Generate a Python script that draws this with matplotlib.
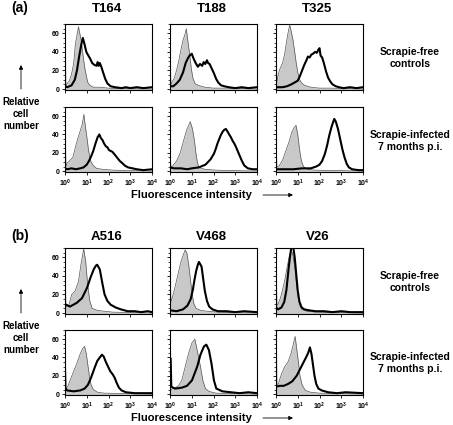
import numpy as np
import matplotlib
matplotlib.use("Agg")
import matplotlib.pyplot as plt
from matplotlib.patches import FancyArrowPatch
from matplotlib.ticker import MultipleLocator, FixedLocator, LogLocator, NullFormatter

plt.rcParams['font.family'] = ['Liberation Sans', 'DejaVu Sans']
plt.rcParams['font.weight'] = 'bold'
plt.rcParams['mathtext.fontset'] = 'custom'
plt.rcParams['mathtext.rm'] = 'Liberation Sans:bold'
plt.rcParams['mathtext.bf'] = 'Liberation Sans:bold'

# histogram curves: (log10 intensity, cell count)
# (a) scrapie-free controls
T164_FREE_GRAY = [(0, 0), (0.02, 40), (0.04, 3), (0.1, 6), (0.2, 9), (0.3, 16), (0.4, 28), (0.48, 49), (0.55, 58), (0.62, 67), (0.68, 60), (0.74, 53), (0.82, 38), (0.9, 24), (1.0, 12), (1.05, 7), (1.15, 4), (1.3, 2), (1.6, 2), (2.0, 1), (2.5, 0.5), (4, 0)]
T164_FREE_BLACK = [(0, 3), (0.1, 2), (0.3, 4), (0.45, 10), (0.55, 20), (0.65, 35), (0.75, 48), (0.82, 55), (0.9, 48), (0.98, 40), (1.05, 37), (1.15, 33), (1.25, 28), (1.35, 26), (1.45, 25), (1.5, 29), (1.55, 25), (1.6, 28), (1.67, 24), (1.75, 18), (1.85, 11), (1.95, 6), (2.1, 3), (2.3, 2), (2.6, 1), (2.8, 2), (3.0, 1), (3.3, 2), (3.6, 1), (4, 2)]
T188_FREE_GRAY = [(0, 0), (0.02, 30), (0.04, 4), (0.1, 8), (0.2, 12), (0.3, 20), (0.4, 30), (0.5, 42), (0.6, 53), (0.68, 58), (0.75, 65), (0.82, 52), (0.9, 38), (0.98, 22), (1.05, 12), (1.15, 6), (1.3, 4), (1.6, 2), (2.0, 1), (2.6, 1), (4, 0)]
T188_FREE_BLACK = [(0, 3), (0.15, 3), (0.3, 6), (0.45, 10), (0.6, 18), (0.72, 28), (0.82, 33), (0.9, 36), (1.0, 38), (1.08, 33), (1.18, 28), (1.28, 24), (1.38, 27), (1.48, 25), (1.55, 29), (1.62, 27), (1.7, 31), (1.75, 28), (1.82, 27), (1.92, 22), (2.02, 17), (2.12, 11), (2.22, 7), (2.35, 4), (2.5, 3), (2.7, 2), (3.0, 1), (3.3, 2), (3.6, 1), (4, 2)]
T325_FREE_GRAY = [(0, 0), (0.02, 31), (0.04, 8), (0.15, 20), (0.3, 28), (0.4, 38), (0.47, 49), (0.55, 60), (0.63, 69), (0.7, 62), (0.78, 53), (0.86, 40), (0.93, 28), (1.0, 18), (1.09, 10), (1.2, 6), (1.32, 4), (1.6, 2), (2.0, 1), (2.5, 1), (4, 0)]
T325_FREE_BLACK = [(0, 2), (0.3, 2), (0.5, 3), (0.7, 5), (0.85, 7), (1.0, 9), (1.1, 14), (1.2, 20), (1.3, 26), (1.4, 31), (1.47, 35), (1.55, 34), (1.62, 37), (1.7, 38), (1.8, 40), (1.88, 39), (1.94, 42), (2.0, 44), (2.05, 36), (2.12, 34), (2.2, 28), (2.3, 19), (2.4, 12), (2.5, 8), (2.6, 5), (2.75, 3), (2.9, 2), (3.1, 1), (3.4, 2), (3.7, 1), (4, 2)]

# (a) scrapie-infected 7 months p.i.
T164_INF_GRAY = [(0, 0), (0.02, 40), (0.04, 5), (0.1, 9), (0.2, 11), (0.36, 15), (0.51, 29), (0.62, 38), (0.7, 44), (0.79, 51), (0.87, 62), (0.93, 50), (1.0, 38), (1.07, 25), (1.13, 16), (1.2, 10), (1.3, 6), (1.45, 3), (1.7, 2), (2.2, 1), (4, 0)]
T164_INF_BLACK = [(0, 3), (0.1, 2), (0.3, 3), (0.5, 2), (0.7, 3), (0.85, 4), (1.0, 7), (1.1, 11), (1.2, 16), (1.3, 22), (1.4, 30), (1.5, 37), (1.58, 40), (1.65, 36), (1.72, 34), (1.8, 30), (1.88, 27), (1.95, 26), (2.02, 23), (2.1, 22), (2.18, 21), (2.25, 19), (2.32, 17), (2.42, 14), (2.52, 11), (2.62, 9), (2.75, 6), (2.9, 4), (3.1, 3), (3.3, 2), (3.6, 1), (4, 2)]
T188_INF_GRAY = [(0, 0), (0.02, 12), (0.04, 5), (0.1, 5), (0.3, 11), (0.47, 20), (0.62, 33), (0.78, 46), (0.86, 50), (0.93, 54), (1.01, 48), (1.08, 40), (1.14, 30), (1.2, 18), (1.25, 11), (1.32, 4), (1.6, 2), (2.1, 1), (4, 0)]
T188_INF_BLACK = [(0, 4), (0.2, 3), (0.5, 3), (0.8, 2), (1.0, 3), (1.32, 4), (1.63, 7), (1.87, 13), (2.02, 19), (2.1, 24), (2.18, 30), (2.33, 39), (2.42, 43), (2.49, 45), (2.57, 46), (2.65, 43), (2.72, 40), (2.8, 37), (2.88, 33), (2.96, 30), (3.04, 26), (3.11, 22), (3.2, 17), (3.27, 13), (3.35, 9), (3.42, 6), (3.58, 3), (3.8, 2), (4, 2)]
T325_INF_GRAY = [(0, 0), (0.02, 20), (0.04, 4), (0.15, 6), (0.3, 12), (0.45, 22), (0.6, 32), (0.72, 42), (0.82, 47), (0.92, 50), (1.0, 40), (1.08, 24), (1.16, 12), (1.26, 5), (1.45, 2), (1.8, 1), (4, 0)]
T325_INF_BLACK = [(0, 2), (0.4, 2), (0.8, 2), (1.2, 3), (1.6, 3), (1.85, 5), (2.0, 7), (2.12, 11), (2.25, 19), (2.35, 28), (2.45, 39), (2.55, 48), (2.62, 53), (2.68, 57), (2.75, 54), (2.85, 46), (2.95, 35), (3.05, 24), (3.15, 15), (3.25, 8), (3.35, 4), (3.5, 2), (3.8, 1), (4, 1)]

# (b) scrapie-free controls
A516_FREE_GRAY = [(0, 0), (0.02, 31), (0.04, 7), (0.16, 7), (0.31, 20), (0.47, 24), (0.62, 34), (0.73, 52), (0.86, 69), (0.95, 56), (1.04, 31), (1.14, 13), (1.25, 5), (1.48, 3), (1.8, 2), (2.2, 1), (4, 0)]
A516_FREE_BLACK = [(0, 9), (0.05, 9), (0.23, 7), (0.54, 11), (0.78, 16), (1.01, 27), (1.17, 38), (1.32, 47), (1.42, 51), (1.48, 52), (1.6, 47), (1.71, 33), (1.82, 20), (1.95, 13), (2.1, 9), (2.33, 6), (2.57, 4), (2.88, 2), (3.2, 2), (3.5, 1), (3.8, 2), (4, 1)]
V468_FREE_GRAY = [(0, 0), (0.02, 38), (0.04, 12), (0.1, 16), (0.2, 25), (0.3, 35), (0.4, 45), (0.5, 55), (0.6, 62), (0.7, 68), (0.78, 64), (0.86, 52), (0.94, 36), (1.02, 20), (1.1, 10), (1.2, 5), (1.4, 3), (1.7, 2), (2.2, 1), (4, 0)]
V468_FREE_BLACK = [(0, 3), (0.3, 2), (0.6, 4), (0.8, 8), (0.95, 15), (1.05, 25), (1.12, 35), (1.2, 45), (1.28, 52), (1.33, 55), (1.38, 53), (1.45, 50), (1.52, 38), (1.6, 24), (1.7, 13), (1.8, 7), (1.95, 4), (2.2, 2), (2.6, 2), (3.0, 1), (3.4, 2), (4, 1)]
V26_FREE_GRAY = [(0, 0), (0.02, 40), (0.04, 8), (0.1, 10), (0.2, 16), (0.3, 25), (0.4, 35), (0.5, 48), (0.6, 60), (0.7, 68), (0.78, 62), (0.86, 50), (0.94, 32), (1.02, 16), (1.1, 8), (1.2, 4), (1.4, 2), (1.8, 1), (4, 0)]
V26_FREE_BLACK = [(0, 6), (0.1, 4), (0.25, 6), (0.38, 12), (0.48, 25), (0.58, 48), (0.65, 62), (0.7, 70), (0.8, 70), (0.86, 60), (0.93, 42), (1.0, 24), (1.08, 12), (1.18, 6), (1.3, 4), (1.5, 3), (1.8, 2), (2.2, 2), (2.6, 1), (3.0, 2), (3.4, 1), (4, 1)]

# (b) scrapie-infected 7 months p.i.
A516_INF_GRAY = [(0, 0), (0.02, 30), (0.04, 5), (0.12, 8), (0.25, 16), (0.4, 25), (0.55, 34), (0.7, 44), (0.82, 50), (0.9, 52), (0.98, 44), (1.05, 32), (1.12, 20), (1.2, 10), (1.3, 5), (1.5, 2), (1.8, 1), (4, 0)]
A516_INF_BLACK = [(0, 30), (0.02, 6), (0.1, 4), (0.4, 3), (0.7, 4), (0.9, 6), (1.05, 10), (1.2, 18), (1.35, 28), (1.48, 36), (1.6, 40), (1.7, 43), (1.78, 41), (1.88, 35), (1.98, 30), (2.08, 25), (2.18, 22), (2.28, 18), (2.38, 12), (2.48, 7), (2.6, 4), (2.8, 2), (3.2, 1), (4, 1)]
V468_INF_GRAY = [(0, 0), (0.02, 8), (0.04, 5), (0.16, 6), (0.39, 9), (0.54, 15), (0.7, 30), (0.86, 45), (1.01, 56), (1.14, 60), (1.25, 48), (1.4, 30), (1.51, 15), (1.63, 6), (1.79, 3), (2.1, 1), (4, 0)]
V468_INF_BLACK = [(0, 39), (0.03, 39), (0.06, 8), (0.23, 6), (0.54, 7), (0.78, 9), (1.01, 15), (1.25, 30), (1.4, 43), (1.56, 52), (1.67, 54), (1.79, 48), (1.91, 33), (2.02, 15), (2.13, 6), (2.41, 3), (2.8, 2), (3.2, 1), (3.6, 2), (4, 1)]
V26_INF_GRAY = [(0, 0), (0.02, 62), (0.04, 10), (0.12, 12), (0.25, 22), (0.4, 30), (0.55, 35), (0.7, 45), (0.8, 55), (0.88, 63), (0.95, 50), (1.03, 35), (1.1, 20), (1.2, 10), (1.35, 4), (1.6, 2), (2.0, 1), (4, 0)]
V26_INF_BLACK = [(0, 8), (0.15, 9), (0.35, 9), (0.55, 11), (0.75, 14), (0.95, 20), (1.1, 27), (1.25, 34), (1.38, 40), (1.48, 45), (1.56, 51), (1.63, 44), (1.7, 32), (1.77, 20), (1.85, 11), (1.95, 6), (2.1, 4), (2.4, 2), (2.8, 1), (3.2, 2), (4, 1)]

SHEEP_A = ['T164', 'T188', 'T325']
SHEEP_B = ['A516', 'V468', 'V26']
ROW_LABELS = ['Scrapie-free\ncontrols', 'Scrapie-infected\n7 months p.i.']
Y_TICKS = [0, 20, 40, 60]
X_TICKLABELS = [r'$\mathrm{10^{%d}}$' % i for i in range(5)]

W, H = 453, 425
fig = plt.figure(figsize=(W / 100, H / 100), dpi=100)


def px_axes(left, top, w, h):
    return fig.add_axes([left / W, 1 - (top + h) / H, w / W, h / H])


def ftext(x, y, s, **kw):
    fig.text(x / W, 1 - y / H, s, **kw)


def farrow(x0, y0, x1, y1):
    fig.add_artist(FancyArrowPatch((x0 / W, 1 - y0 / H), (x1 / W, 1 - y1 / H),
                                   transform=fig.transFigure, arrowstyle='-|>',
                                   mutation_scale=6, lw=0.6, color='k',
                                   shrinkA=0, shrinkB=0))


def draw_panel(ax, gray, black, first_col, bottom_row):
    gx = 10 ** np.array([p[0] for p in gray])
    gy = np.array([p[1] for p in gray])
    bx = 10 ** np.array([p[0] for p in black])
    by = np.array([p[1] for p in black])
    ax.fill_between(gx, gy, -1, color='#c8c8c8', lw=0)
    ax.plot(gx, gy, color='#555555', lw=0.5)
    ax.plot(bx, by, color='k', lw=1.5)
    ax.set_xscale('log')
    ax.set_xlim(1, 1e4)
    ax.set_ylim(-1, 70)
    ax.xaxis.set_major_locator(FixedLocator([1, 10, 100, 1000, 10000]))
    ax.xaxis.set_minor_locator(LogLocator(base=10, subs=np.arange(2, 10)))
    ax.xaxis.set_minor_formatter(NullFormatter())
    ax.set_yticks(Y_TICKS)
    ax.yaxis.set_minor_locator(MultipleLocator(5))
    ax.tick_params(which='major', direction='out', length=2.5, width=0.6, labelsize=5, pad=1.5)
    ax.tick_params(which='minor', direction='out', length=1.3, width=0.5)
    if bottom_row:
        ax.set_xticklabels(X_TICKLABELS)
    else:
        ax.set_xticklabels([])
    if first_col:
        ax.set_yticklabels([str(v) for v in Y_TICKS])
    else:
        ax.set_yticklabels([])
    for s in ax.spines.values():
        s.set_linewidth(0.8)


cols = [65, 170, 276]
pw = 87
rows_a = [(24, 66), (107, 65)]
rows_b = [(248, 66), (330, 65)]

panels_a = [[T164_FREE_GRAY, T164_FREE_BLACK, T188_FREE_GRAY, T188_FREE_BLACK, T325_FREE_GRAY, T325_FREE_BLACK],
            [T164_INF_GRAY, T164_INF_BLACK, T188_INF_GRAY, T188_INF_BLACK, T325_INF_GRAY, T325_INF_BLACK]]
panels_b = [[A516_FREE_GRAY, A516_FREE_BLACK, V468_FREE_GRAY, V468_FREE_BLACK, V26_FREE_GRAY, V26_FREE_BLACK],
            [A516_INF_GRAY, A516_INF_BLACK, V468_INF_GRAY, V468_INF_BLACK, V26_INF_GRAY, V26_INF_BLACK]]

for part, rows, panels, names, letter_y in [('(a)', rows_a, panels_a, SHEEP_A, 8),
                                             ('(b)', rows_b, panels_b, SHEEP_B, 236)]:
    ftext(11, letter_y, part, fontsize=10, ha='left', va='center')
    for c, name in enumerate(names):
        ftext(cols[c] + pw / 2 - 2, letter_y + 1, name, fontsize=9.5, ha='center', va='center')
    for r, (top, h) in enumerate(rows):
        for c in range(3):
            ax = px_axes(cols[c], top, pw, h)
            draw_panel(ax, panels[r][2 * c], panels[r][2 * c + 1], c == 0, r == 1)
        ftext(410, top + h / 2 + 1, ROW_LABELS[r], fontsize=7.5, ha='center', va='center',
              linespacing=1.25)
    # y label + arrow
    ytop = rows[0][0] + rows[0][1]
    farrow(21, ytop - 1, 21, ytop - 25)
    ftext(21, ytop + 24, 'Relative\ncell\nnumber', fontsize=7, ha='center', va='center',
          linespacing=1.2)
    # x label + arrow
    xl_y = rows[1][0] + rows[1][1] + 23
    ftext(191, xl_y, 'Fluorescence intensity', fontsize=8, ha='center', va='center')
    farrow(263, xl_y, 293, xl_y)

fig.savefig('out.png', dpi=100)
